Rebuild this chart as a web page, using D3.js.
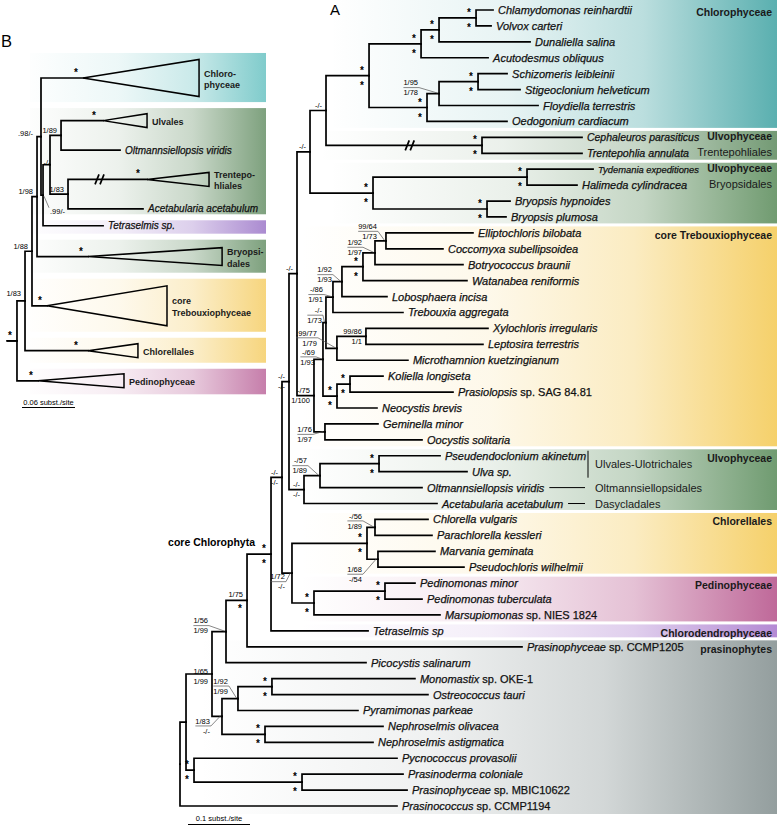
<!DOCTYPE html>
<html><head><meta charset="utf-8">
<script src="https://cdn.jsdelivr.net/npm/d3@7"></script>
<style>body{margin:0;background:#fff}svg{display:block}</style>
</head><body>
<svg id="chart" width="777" height="826"></svg>
<script>
// ================= DATA: panel A (phylogram) =================
// leaf taxon, parent node, branch length (subst./site), listed top to bottom
const leavesA = [
 ["Chlamydomonas reinhardtii","CV",0.0274],
 ["Volvox carteri","CV",0.0242],
 ["Dunaliella salina","CVD",0.1468],
 ["Acutodesmus obliquus","CVDA",0.1081],
 ["Schizomeris leibleinii","SS",0.0468],
 ["Stigeoclonium helveticum","SS",0.0677],
 ["Floydiella terrestris","SSF",0.1597],
 ["Oedogonium cardiacum","SSFO",0.1290],
 ["Cephaleuros parasiticus","TRE",0.1613],
 ["Trentepohlia annulata","TRE",0.1613],
 ["Tydemania expeditiones","TH",0.1065],
 ["Halimeda cylindracea","TH",0.0806],
 ["Bryopsis hypnoides","BB",0.0371],
 ["Bryopsis plumosa","BB",0.0306],
 ["Elliptochloris bilobata","EC",0.1403],
 ["Coccomyxa subellipsoidea","EC",0.0919],
 ["Botryococcus braunii","B",0.1419],
 ["Watanabea reniformis","W",0.1677],
 ["Lobosphaera incisa","L",0.0726],
 ["Trebouxia aggregata","T2",0.1129],
 ["Xylochloris irregularis","XL",0.1968],
 ["Leptosira terrestris","XL",0.1887],
 ["Microthamnion kuetzingianum","XLM",0.1145],
 ["Koliella longiseta","KP",0.0532],
 ["Prasiolopsis sp. SAG 84.81","KP",0.1661],
 ["Neocystis brevis","KPN",0.0645],
 ["Geminella minor","GO",0.0855],
 ["Oocystis solitaria","GO",0.1565],
 ["Pseudendoclonium akinetum","PU",0.0984],
 ["Ulva sp.","PU",0.1419],
 ["Oltmannsiellopsis viridis","PUO",0.1645],
 ["Acetabularia acetabulum","U",0.2145],
 ["Chlorella vulgaris","CPc",0.0855],
 ["Parachlorella kessleri","CPc",0.0919],
 ["Marvania geminata","MPs",0.0919],
 ["Pseudochloris wilhelmii","MPs",0.1387],
 ["Pedinomonas minor","PMT",0.0484],
 ["Pedinomonas tuberculata","PMT",0.0597],
 ["Marsupiomonas sp. NIES 1824","PED",0.2032],
 ["Tetraselmis sp","N6",0.1565],
 ["Prasinophyceae sp. CCMP1205","N7",0.4435],
 ["Picocystis salinarum","N8",0.2258],
 ["Monomastix sp. OKE-1","MO",0.2306],
 ["Ostreococcus tauri","MO",0.2516],
 ["Pyramimonas parkeae","MOP",0.1935],
 ["Nephroselmis olivacea","NEP",0.1903],
 ["Nephroselmis astigmatica","NEP",0.1742],
 ["Pycnococcus provasolii","S",0.3274],
 ["Prasinoderma coloniale","PD",0.1629],
 ["Prasinophyceae sp. MBIC10622","PD",0.1694],
 ["Prasinococcus sp. CCMP1194","R",0.3500]
];
// internal node, parent node, branch length
const internalA = [
 ["R","",0],["T","R",0.0097],["S","T",0.0129],["N9","T",0.0419],["PD","S",0.1742],
 ["N8","N9",0.0226],["Q","N9",0.0161],["MOP","Q",0.0258],["NEP","Q",0.0694],["MO","MOP",0.0548],
 ["N7","N8",0.0339],["N6","N7",0.0387],["N5","N6",0.0177],["N4","N5",0.0113],["CP","N5",0.0161],
 ["CL","CP",0.1210],["CPc","CL",0.0129],["MPs","CL",0.0177],["PED","CP",0.0355],["PMT","PED",0.1145],
 ["N3","N4",0.0129],["U","N4",0.0242],["PUO","U",0.0258],["PU","PUO",0.0952],
 ["N2","N3",0.0210],["Y","N3",0.0274],["N1","N2",0.0258],["BRY","N2",0.1016],
 ["CHL","N1",0.0694],["TRE","N1",0.2516],["CVDA","CHL",0.0839],["CVD","CVDA",0.0290],["CV","CVD",0.0597],
 ["SSFO","CHL",0.0935],["SSF","SSFO",0.0194],["SS","SSF",0.0629],["TH","BRY",0.2484],["BB","BRY",0.1839],
 ["Z","Y",0.0145],["GO","Y",0.0177],["X","Z",0.0048],["KPN","Z",0.0226],["KP","KPN",0.0210],
 ["T2","X",0.0113],["XLM","X",0.0177],["XL","XLM",0.0468],["L","T2",0.0145],["W","L",0.0339],
 ["B","W",0.0194],["EC","B",0.0177]
];
// node, support above branch, support below branch
const supportA = [
 ["CV","*","*"],["CVD","*","*"],["CVDA","*","*"],["CHL","*","*"],["SS","*","*"],["SSF","1/95","1/78"],
 ["SSFO","*","*"],["N1","-/-",""],["N2","-/-",""],["N3","-/-",""],["TRE","*","*"],["BRY","*","*"],
 ["TH","*","*"],["BB","*","*"],["EC","99/64","1/73"],["B","1/92","1/97"],["W","*","*"],["L","1/92","1/93"],
 ["T2","-/86","1/91"],["X","-/-","1/73"],["XLM",".99/77","1/79"],["XL","99/86","1/1"],["Z","-/69","1/93"],
 ["Y","-/75","1/100"],["KP","*","*"],["KPN","*","*"],["GO","1/76","1/97"],["PU","*","*"],["PUO","-/57","1/89"],
 ["U","-/-","-/-"],["N4","-/-","-/-"],["N5","-/-","-/-"],["CL","*","*"],["CPc","-/56","1/89"],["MPs","1/68","-/54"],
 ["CP","1/72","-/-"],["PED","*","*"],["PMT","*","*"],["N6","*","*"],["N7","1/75","*"],["N8","1/56","1/99"],
 ["N9","1/65","1/99"],["Q","1/83","-/-"],["MOP","1/92","1/99"],["MO","*","*"],["NEP","*","*"],["PD","*","*"],["S","*","*"]
];
// shaded groups: title, subtitle, first/last leaf index
const bandTitleA = ["Chlorophyceae","Ulvophyceae","Ulvophyceae","core Trebouxiophyceae","Ulvophyceae","Chlorellales","Pedinophyceae","Chlorodendrophyceae","prasinophytes"];
const bandSubA = ["","Trentepohliales","Bryopsidales","","","","","",""];
const bandLeavesA = [[0,7],[8,9],[10,13],[14,27],[28,31],[32,35],[36,38],[39,39],[40,50]];
const orderLabelsA = [["Ulvales-Ulotrichales",[28,29]],["Oltmannsiellopsidales",[30]],["Dasycladales",[31]]];
const scaleBarA = 0.1;

// ================= DATA: panel B (collapsed tree) =================
const leavesB = [
 ["Chlorophyceae","R4",0.0476],["Ulvales","UO",0.0476],["Oltmannsiellopsis viridis","UO",0.0668],
 ["Trentepohliales","TA",0.0895],["Acetabularia acetabulum","TA",0.0849],["Tetraselmis sp.","R5",0.0680],
 ["Bryopsidales","R3",0.0578],["core Trebouxiophyceae","R2",0.0170],["Chlorellales","R1",0.0713],["Pedinophyceae","B0",0.0238]
];
const rowB = [0, 2.9, 4.9, 6.9, 8.9, 10.05, 12.15, 15.5, 18.55, 20.6];
const collapsedDepthB = [0.1314, 0.0498, 0, 0.0702, 0, 0, 0.1518, 0.1359, 0.0566, 0.0974];
const collapsedRowsB = [2.52, 0.95, 0, 0.95, 0, 0, 1.22, 2.72, 0.95, 0.95];
const cladeTextB = [["Chloro-","phyceae"],["Ulvales"],[],["Trentepo-","hliales"],[],[],["Bryopsi-","dales"],["core","Trebouxiophyceae"],["Chlorellales"],["Pedinophyceae"]];
const internalB = [["Bstem","",0],["B0","Bstem",0.0113],["R1","B0",0.0091],["R2","R1",0.0079],["R3","R2",0.0057],
 ["R4","R3",0.0045],["R5","R4",0.0023],["R6","R5",0.0079],["UO","R6",0.0125],["TA","R6",0.0204]];
const supportB = [["B0","*"],["R1","1/83"],["R2","1/88"],["R3","1/98"],["R4",".98/-"],["R5",".99/-"],["R6","-/-"],
 ["UO","1/89"],["TA","1/83"],["Chlorophyceae","*"],["Ulvales","*"],["Trentepohliales","*"],["Bryopsidales","*"],
 ["core Trebouxiophyceae","*"],["Chlorellales","*"],["Pedinophyceae","*"]];
const bandLeavesB = [[0,0],[1,4],[5,5],[6,6],[7,7],[8,8],[9,9]];
const scaleBarB = 0.06;

// ================= STYLE / LAYOUT CONFIG =================
const F = '"Liberation Sans", Arial, Helvetica, sans-serif';
const bandColorA = ["#55adad","#6f9770","#6c986c","#f5cf66","#6b986c","#f5cf66","#bd6496","#b186d2","#909b9b"];
const bandX0A = [330,320,330,300,300,300,300,300,200];
const bandColorB = ["#7ccaca","#7a9e7a","#a887cf","#7a9e7a","#f6d47a","#f6d47a","#c47aa8"];
const nudgeA = {SSF:[-17,-6],EC:[-5,-9.5],B:[-9,-5.5],L:[-6,-7],T2:[-6,-2.5],X:[0,-7.5],XLM:[-16,-10.5],
 Z:[-4,-2.5],GO:[-9,2.5],PUO:[-9,-10],CPc:[-9,-6.5],MPs:[-12,15],CP:[-3,8.5],N8:[-14,-6],Q:[-8,9.5],MOP:[-6,-12.5],N9:[0,2.5],N7:[0,-1.5]};
const leaderA = new Set(["SSF","EC","B","L","T2","X","XLM","Z","GO","PUO","CPc","MPs","CP","N8","Q","MOP"]);
const nudgeB = {R5:[26,21.5],R6:[4.5,2.5],R4:[-4,2],R1:[0,-3],Ulvales:[-2,0],Trentepohliales:[-2,0],Chlorellales:[-5,0]};
const leaderB = new Set(["R5"]);

const svg = d3.select("#chart");
const defs = svg.append("defs");
function gradient(id, color, x1, x2){
  const g = defs.append("linearGradient").attr("id",id).attr("gradientUnits","userSpaceOnUse")
    .attr("x1",x1).attr("x2",x2).attr("y1",0).attr("y2",0);
  [[0,0],[0.4,0.14],[0.7,0.4],[1,0.97]].forEach(([o,a]) =>
    g.append("stop").attr("offset",o).attr("stop-color",color).attr("stop-opacity",a));
  return "url(#"+id+")";
}
function build(internal, leaves, leafY, x){
  const rows = internal.map(([id,p,l]) => ({id, parent:p, len:l}))
    .concat(leaves.map(([id,p,l]) => ({id, parent:p, len:l, leaf:true})));
  const root = d3.stratify().id(d=>d.id).parentId(d=>d.parent)(rows);
  const idx = new Map(leaves.map((d,i)=>[d[0],i]));
  root.eachAfter(n => { n.minIdx = n.children ? d3.min(n.children, c=>c.minIdx) : idx.get(n.id); });
  root.sort((a,b) => a.minIdx - b.minIdx);
  root.eachBefore(n => { n.dist = (n.parent ? n.parent.dist : 0) + n.data.len; });
  root.eachAfter(n => {
    n.px = x(n.dist);
    n.py = n.children ? (n.children[0].py + n.children[n.children.length-1].py)/2 : leafY(idx.get(n.id));
  });
  return root;
}
function addTaxon(g, name, x, y, size){
  const m = name.match(/^(.*?)( sp\. .+)$/);
  const t = g.append("text").attr("x",x).attr("y",y).attr("font-family",F).attr("font-size",size)
    .attr("fill","#111").attr("stroke","#111").attr("stroke-width",0.25);
  if (m){ t.append("tspan").attr("font-style","italic").text(m[1]); t.append("tspan").text(m[2]); }
  else t.append("tspan").attr("font-style","italic").text(name);
  return t;
}
function addSupport(g, node, labels, nudge, leader){
  const [dx,dy] = nudge || [0,0];
  const made = [];
  labels.forEach((lab,i) => {
    if (!lab) return;
    const side = i === 0 ? -1 : 1;
    const star = lab === "*";
    const cy = node.py + side*(star ? 7.5 : 5) + dy;
    const t = g.append("text").attr("font-family",F)
      .attr("font-size", star ? 10 : 7.5).attr("font-weight", star ? "bold" : "normal")
      .attr("text-anchor", star ? "middle" : "end")
      .attr("x", node.px + (star ? -7 : -4) + dx).attr("y", cy + (star ? 5.5 : 2.7)).text(lab);
    made.push({t, cy});
  });
  if (leader && made.length){
    const w = d3.max(made, m => m.t.node().getComputedTextLength());
    const right = node.px - 4 + dx;
    const midY = made.length > 1 ? (made[0].cy + made[1].cy)/2 : made[0].cy - 4;
    const pts = dx > 0
      ? [[right - w - 1, midY],[node.px + 1, node.py + 1]]
      : [[right - w, midY],[right + 1, midY],[node.px - 1.5, node.py - 0.5]];
    g.append("polyline").attr("points", pts.map(p=>p.join(",")).join(" "))
      .attr("fill","none").attr("stroke","#555").attr("stroke-width",0.7);
  }
}
function breakMark(g, x, y){
  [-3,2].forEach(o => g.append("line").attr("x1",x+o-2).attr("y1",y+5).attr("x2",x+o+2).attr("y2",y-5)
    .attr("stroke","#000").attr("stroke-width",1.7));
}

// ================= PANEL A =================
const xA = d3.scaleLinear().domain([0,1]).range([180,800]);
const yA = d3.scalePoint().domain(d3.range(leavesA.length)).range([10,806]);
const rootA = build(internalA, leavesA, i => yA(i), xA);
const nodeA = new Map(rootA.descendants().map(n=>[n.id,n]));
const leafYA = i => yA(i);

const titleBoxes = []; // {row, left}
const gBandA = svg.append("g");
bandLeavesA.forEach(([a,b],k) => {
  const top = k === 0 ? 0 : (leafYA(bandLeavesA[k-1][1]) + leafYA(a))/2 + 1.5;
  const bot = k === bandLeavesA.length-1 ? leafYA(b) + 8 : (leafYA(b) + leafYA(bandLeavesA[k+1][0]))/2 - 1.5;
  gBandA.append("rect").attr("x",bandX0A[k]).attr("y",top).attr("width",777-bandX0A[k]).attr("height",bot-top)
    .attr("fill", gradient("gA"+k, bandColorA[k], bandX0A[k], 777));
  const title = gBandA.append("text").attr("x",772).attr("text-anchor","end").attr("font-family",F)
    .attr("font-weight","bold").attr("font-size",10.5).attr("fill","#1a1a1a").text(bandTitleA[k]);
  if (bandSubA[k]){
    title.attr("y", leafYA(a)+3);
    const sub = gBandA.append("text").attr("x",772).attr("y",leafYA(a+1)+3).attr("text-anchor","end")
      .attr("font-family",F).attr("font-size",11).attr("fill","#1a1a1a").text(bandSubA[k]);
    titleBoxes.push({row:a, left: 772 - title.node().getComputedTextLength()});
    titleBoxes.push({row:a+1, left: 772 - sub.node().getComputedTextLength()});
  } else {
    title.attr("y", leafYA(a)+6);
    titleBoxes.push({row:a, left: 772 - title.node().getComputedTextLength()});
  }
});

// ================= PANEL B backgrounds =================
const xB = d3.scaleLinear().domain([0,1]).range([7,890]);
const yB = d3.scaleLinear().domain([0,1]).range([78,92.7]);
const rowPx = yB(1) - yB(0);
const topExt = i => yB(rowB[i]) - collapsedRowsB[i]*rowPx/2;
const botExt = i => yB(rowB[i]) + collapsedRowsB[i]*rowPx/2;
const gBandB = svg.append("g");
bandLeavesB.forEach(([a,b],k) => {
  const top = k === 0 ? topExt(a) - 6.5 : (botExt(bandLeavesB[k-1][1]) + topExt(a))/2 + 3;
  const bot = k === bandLeavesB.length-1 ? botExt(b) + 6.5 : (botExt(b) + topExt(bandLeavesB[k+1][0]))/2 - 3;
  const x0 = 30;
  gBandB.append("rect").attr("x",x0).attr("y",top).attr("width",266-x0).attr("height",bot-top)
    .attr("fill", gradient("gB"+k, bandColorB[k], 20, 266));
});

// tree A
const gA = svg.append("g");
gA.append("g").selectAll("path").data(rootA.descendants().filter(n=>n.parent)).join("path")
  .attr("d", n => `M${n.parent.px},${n.parent.py}V${n.py}H${n.px}`)
  .attr("fill","none").attr("stroke","#000").attr("stroke-width",1.7).attr("stroke-linecap","square");
const tre = nodeA.get("TRE");
breakMark(gA, tre.parent.px + 0.54*(tre.px - tre.parent.px), tre.py);
const labelW = {};
rootA.leaves().forEach(n => {
  const x = n.px + 5;
  const t = addTaxon(gA, n.id, x, n.py + 4, 11);
  let w = t.node().getComputedTextLength();
  const row = leavesA.findIndex(d => d[0] === n.id);
  const box = titleBoxes.find(b => b.row === row);
  if (box && x + w > box.left - 8){
    const fs = 11 * (box.left - 8 - x) / w;
    t.attr("font-size", fs.toFixed(2));
    w = t.node().getComputedTextLength();
  }
  labelW[n.id] = w;
});
supportA.forEach(([id,t,b]) => addSupport(gA, nodeA.get(id), [t,b], nudgeA[id], leaderA.has(id)));
// order labels in Ulvophyceae
orderLabelsA.forEach(([lab, idxs]) => {
  const ys = idxs.map(i => leafYA(i));
  const cy = d3.mean(ys);
  gA.append("text").attr("x",595).attr("y",cy+4).attr("font-family",F).attr("font-size",11).attr("fill","#1a1a1a").text(lab);
  if (idxs.length > 1){
    gA.append("line").attr("x1",588).attr("x2",588).attr("y1",d3.min(ys)-5).attr("y2",d3.max(ys)+6)
      .attr("stroke","#000").attr("stroke-width",1);
  } else {
    const n = nodeA.get(leavesA[idxs[0]][0]);
    gA.append("line").attr("x1", n.px + 5 + labelW[n.id] + 5).attr("x2",585).attr("y1",cy).attr("y2",cy)
      .attr("stroke","#000").attr("stroke-width",1);
  }
});
// core Chlorophyta label
const n6 = nodeA.get("N6");
gA.append("text").attr("x", n6.px - 16).attr("y", n6.py - 8).attr("text-anchor","end").attr("font-family",F)
  .attr("font-weight","bold").attr("font-size",10.5).text("core Chlorophyta");
// scale bar A
const sbA0 = 188;
gA.append("line").attr("x1",sbA0).attr("x2",sbA0 + xA(scaleBarA) - xA(0)).attr("y1",824.5).attr("y2",824.5)
  .attr("stroke","#000").attr("stroke-width",1.2);
gA.append("text").attr("x", sbA0 + (xA(scaleBarA)-xA(0))/2).attr("y",821).attr("text-anchor","middle")
  .attr("font-family",F).attr("font-size",7.5).text(scaleBarA + " subst./site");
svg.append("text").attr("x",330).attr("y",15).attr("font-family",F).attr("font-size",15).text("A");

// ================= PANEL B tree =================
const rootB = build(internalB, leavesB, i => yB(rowB[i]), xB);
const nodeB = new Map(rootB.descendants().map(n=>[n.id,n]));
const gB = svg.append("g");
gB.append("g").selectAll("path").data(rootB.descendants().filter(n=>n.parent)).join("path")
  .attr("d", n => `M${n.parent.px},${n.parent.py}V${n.py}H${n.px}`)
  .attr("fill","none").attr("stroke","#000").attr("stroke-width",1.7).attr("stroke-linecap","square");
const bst = nodeB.get("Bstem");
gB.append("path").attr("d",`M${bst.px},${bst.py}H${nodeB.get("B0").px}`).attr("stroke","#000").attr("stroke-width",1.7);
leavesB.forEach(([name],i) => {
  const n = nodeB.get(name);
  if (collapsedDepthB[i] > 0){
    const x2 = xB(n.dist + collapsedDepthB[i]), h = collapsedRowsB[i]*rowPx/2;
    gB.append("path").attr("d",`M${n.px},${n.py}L${x2},${n.py-h}L${x2},${n.py+h}Z`)
      .attr("fill","none").attr("stroke","#000").attr("stroke-width",1.5).attr("stroke-linejoin","miter");
    const lines = cladeTextB[i];
    lines.forEach((ln,j) => gB.append("text").attr("x",x2+5)
      .attr("y", lines.length > 1 ? n.py - 1.5 + j*11.5 : n.py + 4)
      .attr("font-family",F).attr("font-weight","bold").attr("font-size",9).attr("fill","#1a1a1a").text(ln));
  } else {
    addTaxon(gB, name, n.px + 5, n.py + 3.5, 10);
  }
});
const trB = nodeB.get("Trentepohliales");
breakMark(gB, trB.parent.px + 0.405*(trB.px - trB.parent.px), trB.py);
supportB.forEach(([id,t]) => addSupport(gB, nodeB.get(id), [t,""], nudgeB[id], leaderB.has(id)));
// scale bar B
const sbB0 = 22;
gB.append("line").attr("x1",sbB0).attr("x2",sbB0 + xB(scaleBarB)-xB(0)).attr("y1",407.5).attr("y2",407.5)
  .attr("stroke","#000").attr("stroke-width",1.2);
gB.append("text").attr("x",sbB0 + (xB(scaleBarB)-xB(0))/2).attr("y",405).attr("text-anchor","middle")
  .attr("font-family",F).attr("font-size",7.5).text(scaleBarB + " subst./site");
svg.append("text").attr("x",1).attr("y",47).attr("font-family",F).attr("font-size",16.5).text("B");
</script>
</body></html>
